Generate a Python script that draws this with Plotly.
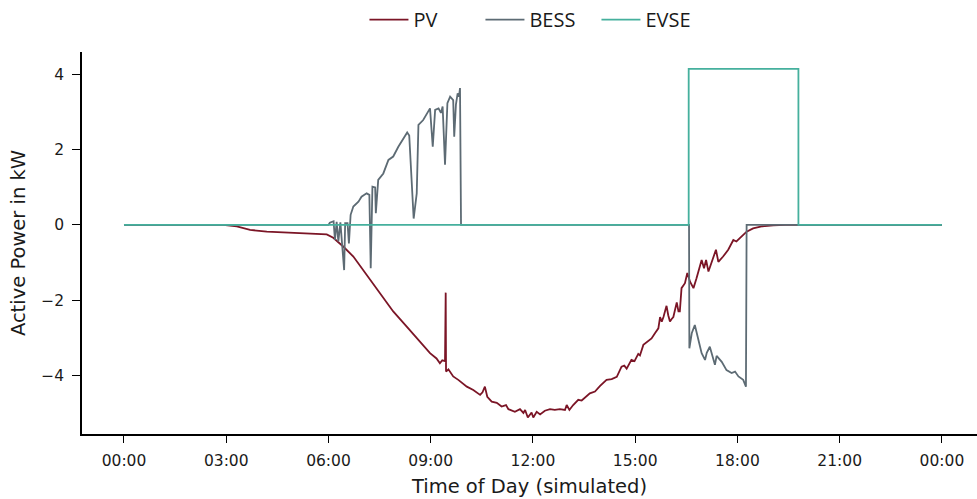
import plotly.graph_objects as go

# ---- data (hours of day, kW) ----
pv_t = [0, 2.91, 3.31, 3.7, 4.19, 5.07, 5.95, 6.14, 6.44, 6.73, 7.12, 7.51, 7.9, 8.29, 8.69, 8.78, 8.98,
        9.17, 9.27, 9.34, 9.42, 9.44, 9.45, 9.52, 9.66, 9.81, 9.9, 10.06, 10.25, 10.45, 10.52, 10.59, 10.66,
        10.79, 10.94, 11.08, 11.21, 11.28, 11.47, 11.62, 11.72, 11.77, 11.85, 11.96, 12.01, 12.11, 12.21,
        12.35, 12.5, 12.64, 12.79, 12.94, 12.99, 13.07, 13.18, 13.33, 13.43, 13.53, 13.67, 13.82, 13.97,
        14.16, 14.31, 14.46, 14.6, 14.68, 14.75, 14.89, 14.98, 15.09, 15.14, 15.24, 15.38, 15.48, 15.58,
        15.68, 15.73, 15.78, 15.83, 15.92, 15.97, 16.02, 16.07, 16.12, 16.22, 16.27, 16.31, 16.36, 16.46,
        16.53, 16.61, 16.71, 16.8, 16.88, 16.95, 17.02, 17.08, 17.15, 17.24, 17.37, 17.44, 17.58, 17.73,
        17.88, 17.97, 18.12, 18.27, 18.46, 18.71, 19.05, 19.4, 24]
pv_kw = [0, 0, -0.04, -0.13, -0.18, -0.22, -0.25, -0.34, -0.58, -0.84, -1.33, -1.82, -2.3, -2.7, -3.1, -3.19, -3.41,
         -3.55, -3.68, -3.6, -3.62, -1.8, -3.9, -3.84, -4.03, -4.12, -4.18, -4.3, -4.39, -4.52, -4.45, -4.3, -4.57,
         -4.7, -4.73, -4.83, -4.79, -4.9, -4.97, -4.9, -5.0, -4.92, -5.12, -4.99, -5.12, -4.97, -5.04,
         -4.94, -4.9, -4.92, -4.9, -4.92, -4.79, -4.92, -4.79, -4.65, -4.67, -4.6, -4.48, -4.43, -4.28,
         -4.12, -4.1, -4.04, -3.77, -3.74, -3.82, -3.59, -3.62, -3.43, -3.47, -3.19, -3.1, -3.02, -2.88,
         -2.75, -2.45, -2.57, -2.45, -2.15, -2.4, -2.57, -2.5, -2.45, -2.06, -2.3, -2.3, -1.68, -1.55,
         -1.28, -1.51, -1.68, -1.42, -1.15, -0.93, -1.15, -0.93, -1.24, -0.98, -0.66, -0.98, -0.84, -0.66,
         -0.4, -0.44, -0.31, -0.18, -0.09, -0.04, -0.01, 0, 0]

bess_t = [0, 6.0, 6.04, 6.15, 6.19, 6.24, 6.29, 6.35, 6.46, 6.49, 6.56, 6.6, 6.65, 6.73, 6.88, 6.97, 7.12, 7.2,
          7.24, 7.29, 7.37, 7.39, 7.46, 7.61, 7.76, 7.9, 8.05, 8.2, 8.31, 8.37, 8.47, 8.5, 8.59, 8.64, 8.78,
          8.98, 9.06, 9.13, 9.23, 9.3, 9.35, 9.42, 9.49, 9.57, 9.66, 9.69, 9.74, 9.79, 9.83, 9.86, 9.89,
          16.58, 16.59, 16.66, 16.75, 16.85, 16.95, 17.05, 17.1, 17.19, 17.34, 17.39, 17.54, 17.68, 17.83,
          17.93, 18.03, 18.17, 18.25, 18.27, 24]
bess_kw = [0, 0, 0.06, 0.1, -0.4, 0.08, -0.44, 0.07, -1.2, 0.05, 0.05, -0.49, 0.27, 0.49, 0.62, 0.75, 0.84, 0.8,
           -1.15, 1.02, 1.0, 0.31, 1.2, 1.37, 1.73, 1.82, 2.08, 2.3, 2.46, 2.38, 0.35, 0.17, 0.84, 2.66, 2.79,
           3.1, 2.08, 3.06, 3.1, 2.98, 3.15, 1.6, 3.24, 3.41, 3.32, 2.35, 3.2, 3.5, 3.41, 3.64, 0,
           0, -3.28, -2.88, -2.66, -3.06, -3.41, -3.59, -3.4, -3.24, -3.72, -3.48, -3.64, -3.86, -3.94,
           -3.9, -4.03, -4.12, -4.3, 0, 0]

evse_t = [0, 16.57, 16.57, 19.79, 19.79, 24]
evse_kw = [0, 0, 4.15, 4.15, 0, 0]

tick_hours = [0, 3, 6, 9, 12, 15, 18, 21, 24]
tick_labels = ["00:00", "03:00", "06:00", "09:00", "12:00", "15:00", "18:00", "21:00", "00:00"]

fig = go.Figure()
fig.add_trace(go.Scatter(x=pv_t, y=pv_kw, mode="lines", name="PV",
                         line=dict(color="#7b1526", width=1.8)))
fig.add_trace(go.Scatter(x=bess_t, y=bess_kw, mode="lines", name="BESS",
                         line=dict(color="#5d6b74", width=1.8)))
fig.add_trace(go.Scatter(x=evse_t, y=evse_kw, mode="lines", name="EVSE",
                         line=dict(color="#45b09d", width=1.8)))

font = "DejaVu Sans"
fig.update_layout(
    width=977, height=499,
    margin=dict(l=82, r=0, t=52, b=65),
    plot_bgcolor="white", paper_bgcolor="white",
    font=dict(family=font, size=15.5, color="#1a1a1a"),
    legend=dict(orientation="h", x=0.51, xanchor="center", y=1.136, yanchor="top",
                font=dict(family="Open Sans", size=20, color="#1a1a1a"),
                itemwidth=39, entrywidth=62, traceorder="normal"),
    xaxis=dict(range=[-1.232, 25.03], tickvals=tick_hours, ticktext=tick_labels, automargin=False,
               showgrid=False, zeroline=False, showline=True, linecolor="black", linewidth=1.5,
               ticks="outside", ticklen=7, tickwidth=1.2, tickcolor="black", ticklabelstandoff=5,
               title=dict(text="Time of Day (simulated)", font=dict(size=19.5), standoff=10)),
    yaxis=dict(range=[-5.56, 4.60], tickvals=[-4, -2, 0, 2, 4], automargin=False,
               showgrid=False, zeroline=False, showline=True, linecolor="black", linewidth=1.5,
               ticks="outside", ticklen=8, tickwidth=1.2, tickcolor="black", ticklabelstandoff=5,
               title=dict(text="Active Power in kW", font=dict(size=19.5), standoff=10)),
)

# remove the browser's default 8px body margin so the figure sits at the page origin
fig.write_html("out.html", config={"displayModeBar": False},
               post_script="document.body.style.margin='0px';")
